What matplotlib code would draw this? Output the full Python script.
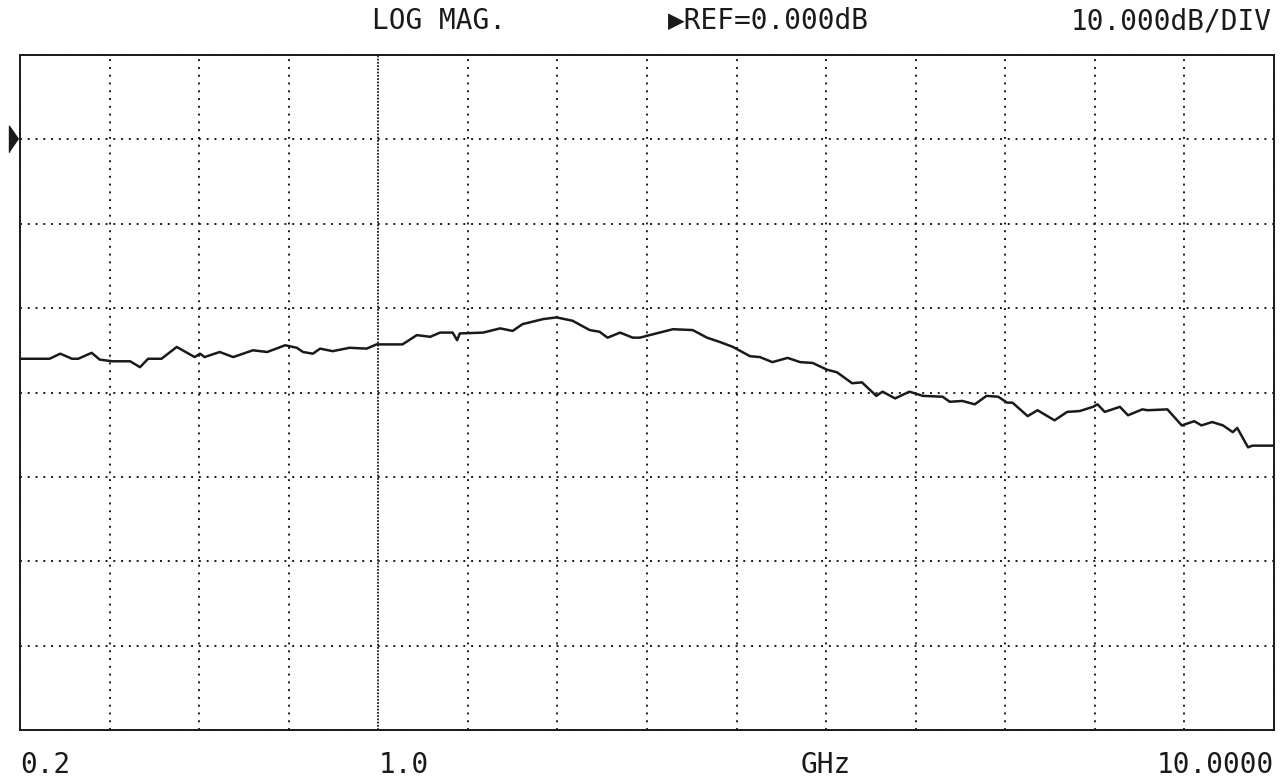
import matplotlib
matplotlib.use("Agg")
import matplotlib.pyplot as plt
import matplotlib.transforms as mtransforms

# trace: x in screen divisions (0..14), y in dB
x_div = [0.00, 0.33, 0.45, 0.58, 0.65, 0.80, 0.89, 1.03, 1.23, 1.34, 1.43, 1.58,
         1.75, 1.95, 2.01, 2.06, 2.23, 2.38, 2.60, 2.76, 2.96, 3.09, 3.16, 3.27,
         3.35, 3.49, 3.68, 3.87, 3.98, 4.27, 4.43, 4.58, 4.69, 4.83, 4.88, 4.91,
         5.17, 5.36, 5.50, 5.61, 5.84, 5.99, 6.17, 6.36, 6.47, 6.56, 6.70, 6.84,
         6.92, 7.14, 7.29, 7.51, 7.67, 7.81, 7.96, 8.15, 8.26, 8.40, 8.57, 8.71,
         8.85, 9.01, 9.12, 9.29, 9.40, 9.56, 9.63, 9.77, 9.93, 10.08, 10.30, 10.38,
         10.52, 10.66, 10.79, 10.92, 11.02, 11.08, 11.25, 11.36, 11.55, 11.69, 11.83,
         11.98, 12.03, 12.11, 12.28, 12.37, 12.53, 12.59, 12.81, 12.97, 13.11, 13.19,
         13.31, 13.43, 13.54, 13.59, 13.71, 13.76, 14.00]
mag_db = [-26.0, -26.0, -25.4, -26.0, -26.0, -25.3, -26.1, -26.3, -26.3, -27.0, -26.0, -26.0,
          -24.6, -25.8, -25.4, -25.8, -25.2, -25.8, -25.0, -25.2, -24.4, -24.7, -25.2, -25.4,
          -24.8, -25.1, -24.7, -24.8, -24.3, -24.3, -23.2, -23.4, -22.9, -22.9, -23.8, -23.0,
          -22.9, -22.4, -22.7, -21.9, -21.3, -21.1, -21.5, -22.6, -22.8, -23.5, -22.9, -23.5,
          -23.5, -22.9, -22.5, -22.6, -23.5, -24.0, -24.6, -25.7, -25.8, -26.4, -25.9, -26.4,
          -26.5, -27.3, -27.6, -28.9, -28.8, -30.4, -29.9, -30.7, -29.9, -30.4, -30.5, -31.1,
          -31.0, -31.4, -30.4, -30.5, -31.2, -31.2, -32.8, -32.1, -33.3, -32.3, -32.2,
          -31.7, -31.4, -32.3, -31.7, -32.7, -32.0, -32.1, -32.0, -33.9, -33.4, -33.9,
          -33.5, -33.9, -34.7, -34.2, -36.5, -36.3, -36.3]

ref_db = 0.0
db_per_div = 10.0
n_xdiv = 14
n_ydiv = 8
x_labels = [(0, "0.2", "left"), (4, "1.0", "left"), (9.0, "GHz", "center"), (14, "10.0000", "right")]

ink = "#1a1a1a"
mono = ["DejaVu Sans Mono", "DejaVu Sans"]
fs = 20

fig = plt.figure(figsize=(12.87, 7.78), dpi=100)
fig.patch.set_facecolor("white")
ax = fig.add_axes([20 / 1287, 48 / 778, 1254 / 1287, 675 / 778])

top = ref_db + db_per_div
bottom = top - n_ydiv * db_per_div
ax.set_xlim(0, n_xdiv)
ax.set_ylim(bottom, top)

# dotted graticule
for i in range(1, n_xdiv):
    dense = (i == 4)
    ax.axvline(i, color=ink, lw=1.4 if not dense else 1.3,
               linestyle=(0, (1, 3)) if not dense else (0, (1, 0.8)), zorder=1)
for j in range(1, n_ydiv):
    ax.axhline(top - j * db_per_div, color=ink, lw=1.4, linestyle=(0, (1, 3)), zorder=1)

for s in ax.spines.values():
    s.set_color(ink)
    s.set_linewidth(1.4)
    s.set_linestyle((0, (1, 0.8)))

ax.set_xticks([])
ax.set_yticks([])

ax.plot(x_div, mag_db, color=ink, lw=1.8, zorder=3)

# reference marker
trans = mtransforms.blended_transform_factory(ax.transAxes, ax.transData)
ax.plot([-0.0085], [ref_db], marker=[(0, -1.3), (0, 1.3), (0.9, 0)], markersize=19,
        color=ink, transform=trans, clip_on=False)

# header text
fig.text(372 / 1287, 1 - 21 / 778, "LOG MAG.", fontsize=fs, family=mono, color=ink,
         ha="left", va="center")
fig.text(668 / 1287, 1 - 21 / 778, "\u25b6REF=0.000dB", fontsize=fs, family=mono, color=ink,
         ha="left", va="center")
fig.text(1272 / 1287, 1 - 21 / 778, "10.000dB/DIV", fontsize=fs, family=mono, color=ink,
         ha="right", va="center")

# frequency labels
xtrans = mtransforms.blended_transform_factory(ax.transData, fig.transFigure)
for pos, lab, ha in x_labels:
    ax.text(pos, 1 - 765 / 778, lab, fontsize=fs, family=mono, color=ink,
            ha=ha, va="center", transform=xtrans)

fig.savefig("out.png", dpi=100, facecolor="white")
